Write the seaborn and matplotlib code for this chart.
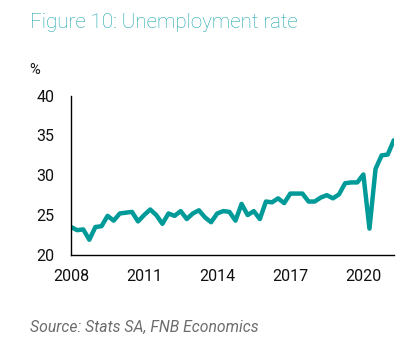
import numpy as np
import pandas as pd
import matplotlib
matplotlib.use('Agg')
import matplotlib.pyplot as plt
import seaborn as sns

# quarterly unemployment rate, 2008Q1 - 2021Q2
rate = [23.5, 23.1, 23.2, 21.9,
        23.5, 23.6, 24.9, 24.3,
        25.2, 25.3, 25.4, 24.2,
        25.0, 25.7, 25.0, 23.9,
        25.2, 24.9, 25.5, 24.5,
        25.2, 25.6, 24.7, 24.1,
        25.2, 25.5, 25.4, 24.3,
        26.4, 25.0, 25.5, 24.5,
        26.7, 26.6, 27.1, 26.5,
        27.7, 27.7, 27.7, 26.7,
        26.7, 27.2, 27.5, 27.1,
        27.6, 29.0, 29.1, 29.1,
        30.1, 23.3, 30.8, 32.5,
        32.6, 34.4]
quarter = [2008 + i * 0.25 for i in range(len(rate))]
year_ticks = [2008, 2011, 2014, 2017, 2020]
y_ticks = [20, 25, 30, 35, 40]

df = pd.DataFrame({'quarter': quarter, 'rate': rate})

sns.set_style('white')
plt.rcParams['font.family'] = ['Roboto', 'DejaVu Sans']

fig = plt.figure(figsize=(4.06, 3.61), dpi=100)
ax = fig.add_axes([0.175, 0.294, 0.795, 0.441])

sns.lineplot(data=df, x='quarter', y='rate', ax=ax, color='#009a98', linewidth=3.2)

ax.set_xlim(2008, quarter[-1])
ax.set_ylim(20, 40)
ax.set_xticks(year_ticks)
ax.set_yticks(y_ticks)
ax.tick_params(axis='x', direction='out', length=4, width=1, color='black',
               labelsize=11.5, pad=6, labelcolor='#111111')
ax.tick_params(axis='y', length=0, labelsize=11.5, pad=12, labelcolor='#111111')
ax.set_xlabel('')
ax.set_ylabel('')
for s in ['top', 'right']:
    ax.spines[s].set_visible(False)
for s in ['left', 'bottom']:
    ax.spines[s].set_color('black')
    ax.spines[s].set_linewidth(1)

fig.text(0.074, 0.938, 'Figure 10: Unemployment rate', color='#1aa6ad',
         fontsize=14.8, fontweight='light', va='center', ha='left')
fig.text(0.072, 0.805, '%', fontsize=10.5, va='center', ha='left', color='#111111')
fig.text(0.074, 0.092, 'Source: Stats SA, FNB Economics', color='#6d6d6d',
         fontsize=11.3, style='italic', va='center', ha='left')

fig.savefig('out.png', dpi=100)
